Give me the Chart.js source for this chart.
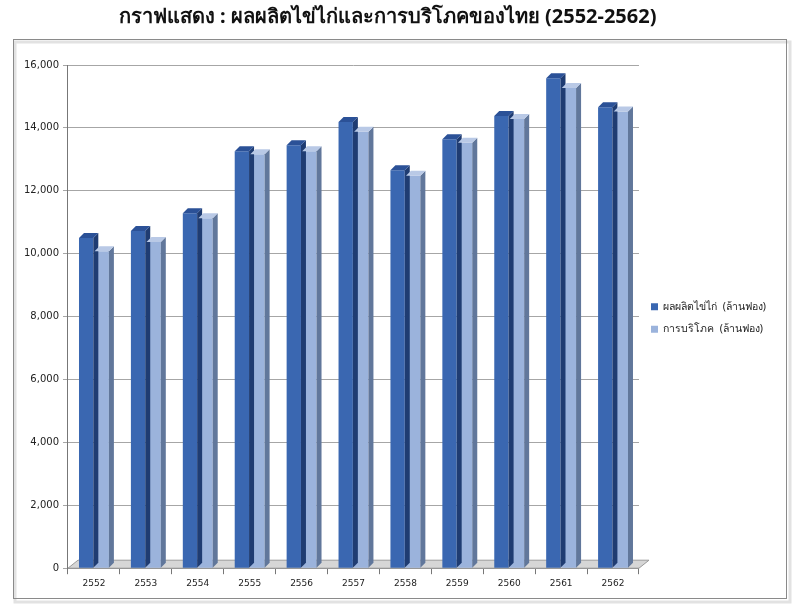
<!DOCTYPE html>
<html>
<head>
<meta charset="utf-8">
<script src="https://cdn.jsdelivr.net/npm/chart.js@4"></script>
<style>
  html, body { margin: 0; padding: 0; background: #fff; }
  #wrap { width: 800px; height: 613px; }
</style>
</head>
<body>
<div id="wrap"><canvas id="myChart" width="800" height="613"></canvas></div>
<script>
// ปี พ.ศ.
const years = ["2552", "2553", "2554", "2555", "2556", "2557", "2558", "2559", "2560", "2561", "2562"];
// ผลผลิตไข่ไก่ (ล้านฟอง)
const production = [10500, 10720, 11290, 13260, 13450, 14190, 12650, 13640, 14380, 15580, 14660];
// การบริโภค (ล้านฟอง)
const consumption = [10080, 10370, 11130, 13160, 13260, 13880, 12480, 13530, 14280, 15270, 14520];

const seriesNames = ["ผลผลิตไข่ไก่  (ล้านฟอง)", "การบริโภค  (ล้านฟอง)"];
const titleText = "กราฟแสดง : ผลผลิตไข่ไก่และการบริโภคของไทย (2552-2562)\u00A0\u00A0\u00A0\u00A0";

const faceColors = ["#3a67b1", "#9bb3dc"];
const sideColors = ["#1f3c72", "#61779b"];
const topColors = ["#2b5197", "#b9c9e6"];

// กรอบรอบกราฟ
const framePlugin = {
  id: "frame",
  beforeDraw(chart) {
    const ctx = chart.ctx;
    ctx.save();
    ctx.fillStyle = "#fff";
    ctx.fillRect(0, 0, chart.width, chart.height);
    ctx.strokeStyle = "#e2e2e2";
    ctx.lineWidth = 3;
    ctx.strokeRect(15, 42, 775, 560);
    ctx.strokeStyle = "#8a8a8a";
    ctx.lineWidth = 1;
    ctx.strokeRect(13.5, 39.5, 773, 559);
    ctx.restore();
  },
  beforeDatasetsDraw(chart) {
    // พื้นสีเทา
    const a = chart.chartArea;
    const ctx = chart.ctx;
    ctx.save();
    ctx.fillStyle = "#d6d6d6";
    ctx.strokeStyle = "#9a9a9a";
    ctx.beginPath();
    ctx.moveTo(a.left, a.bottom);
    ctx.lineTo(a.left + 10, a.bottom - 8);
    ctx.lineTo(a.right + 10, a.bottom - 8);
    ctx.lineTo(a.right, a.bottom);
    ctx.closePath();
    ctx.fill();
    ctx.stroke();
    ctx.restore();
  }
};

// ทำแท่งให้ดูเป็น 3 มิติ
const bar3dPlugin = {
  id: "bar3d",
  afterDatasetsDraw(chart) {
    const ctx = chart.ctx;
    const d = 5;
    chart.data.datasets.forEach((ds, i) => {
      chart.getDatasetMeta(i).data.forEach((bar) => {
        const p = bar.getProps(["x", "y", "base", "width"], true);
        const l = p.x - p.width / 2, r = p.x + p.width / 2;
        ctx.save();
        ctx.fillStyle = sideColors[i];
        ctx.beginPath();
        ctx.moveTo(r, p.y);
        ctx.lineTo(r + d, p.y - d);
        ctx.lineTo(r + d, p.base - d);
        ctx.lineTo(r, p.base);
        ctx.closePath();
        ctx.fill();
        ctx.fillStyle = topColors[i];
        ctx.beginPath();
        ctx.moveTo(l, p.y);
        ctx.lineTo(l + d, p.y - d);
        ctx.lineTo(r + d, p.y - d);
        ctx.lineTo(r, p.y);
        ctx.closePath();
        ctx.fill();
        ctx.restore();
      });
    });
  }
};

const graph = {
  labels: years,
  datasets: [
    {
      label: seriesNames[0],
      backgroundColor: faceColors[0],
      borderWidth: 0,
      data: production,
    },
    {
      label: seriesNames[1],
      backgroundColor: faceColors[1],
      borderWidth: 0,
      data: consumption,
    },
  ],
};

const config = {
  type: "bar",
  data: graph,
  options: {
    responsive: false,
    animation: false,
    layout: { padding: { top: 5, left: 20, right: 24, bottom: 20 } },
    datasets: { bar: { categoryPercentage: 0.6, barPercentage: 0.92 } },
    plugins: {
      title: {
        display: true,
        text: titleText,
        color: "#111",
        font: { family: "Tahoma, 'Noto Sans', sans-serif", size: 20, weight: "bold" },
        padding: { top: 0, bottom: 36 },
      },
      legend: {
        position: "right",
        title: { display: true, text: " ", padding: { top: 14, bottom: 12 }, font: { size: 10 } },
        labels: {
          boxWidth: 7,
          boxHeight: 7,
          padding: 12,
          color: "#222",
          font: { family: "Tahoma, 'Noto Sans', sans-serif", size: 10.5 },
        },
      },
      tooltip: { enabled: false },
    },
    scales: {
      x: {
        grid: { drawOnChartArea: false, drawTicks: true, tickLength: 6, color: "#777" },
        border: { color: "#777" },
        ticks: { color: "#222", font: { family: "Tahoma, 'DejaVu Sans', sans-serif", size: 9 }, padding: 4 },
      },
      y: {
        min: 0,
        max: 16000,
        grid: { color: "#a6a6a6", tickLength: 5 },
        border: { color: "#777" },
        ticks: {
          stepSize: 2000,
          color: "#222",
          padding: 4,
          font: { family: "Tahoma, 'DejaVu Sans', sans-serif", size: 10 },
          callback: (v) => v.toLocaleString("en-US"),
        },
      },
    },
  },
  plugins: [framePlugin, bar3dPlugin],
};

const myChart = new Chart(document.getElementById("myChart"), config);
</script>
</body>
</html>
